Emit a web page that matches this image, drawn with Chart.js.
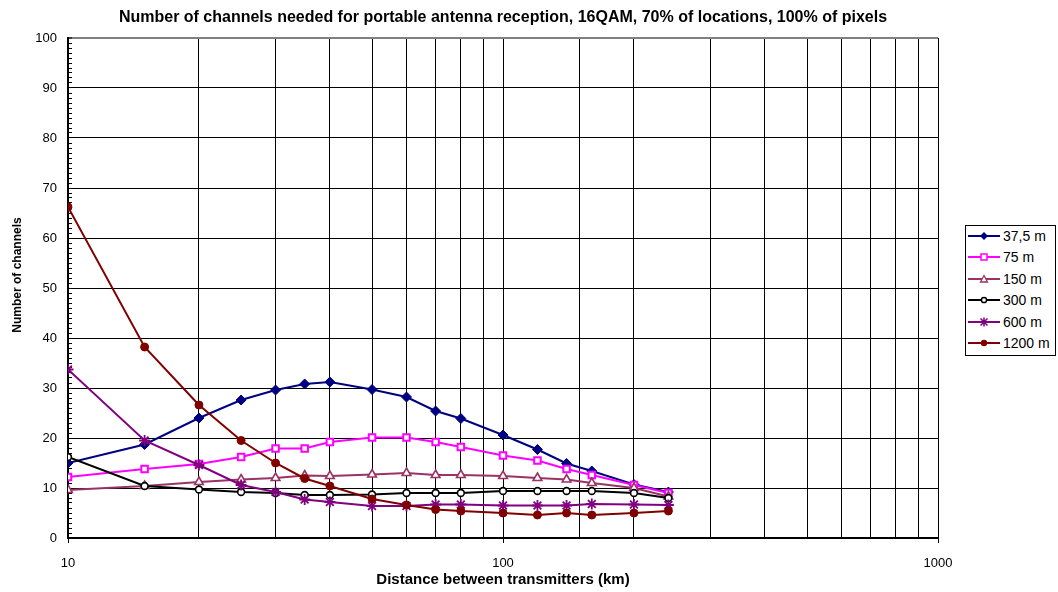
<!DOCTYPE html>
<html><head><meta charset="utf-8">
<script src="https://cdn.jsdelivr.net/npm/chart.js@4"></script>
<style>
html,body{margin:0;padding:0;background:#fff;}
#wrap{position:relative;width:1058px;height:592px;font-family:"Liberation Sans",Arial,sans-serif;color:#000;overflow:hidden;}
#c{position:absolute;left:0;top:0;}
#title{position:absolute;left:0;top:8px;width:1006px;text-align:center;font-weight:bold;font-size:16px;line-height:18px;white-space:nowrap;}
#ytitle{position:absolute;left:-83px;top:267px;width:200px;height:16px;line-height:16px;text-align:center;font-weight:bold;font-size:12px;transform:rotate(-90deg);white-space:nowrap;}
#legend{position:absolute;left:965px;top:225px;width:91px;height:131px;box-sizing:border-box;border:1px solid #000;background:#fff;}
.item{position:absolute;left:2px;height:16px;width:88px;}
.item svg{position:absolute;left:0;top:0;}
.item span{position:absolute;left:35px;top:0;font-size:14px;line-height:16px;white-space:nowrap;}
</style></head><body>
<div id="wrap">
<canvas id="c" width="1058" height="592"></canvas>
<div id="title">Number of channels needed for portable antenna reception, 16QAM, 70% of locations, 100% of pixels</div>
<div id="ytitle">Number of channels</div>
<div id="legend"></div>
</div>
<script>
// ---- data ----
const distances = [10, 15, 20, 25, 30, 35, 40, 50, 60, 70, 80, 100, 120, 140, 160, 200, 240];
const seriesNames = ["37,5 m", "75 m", "150 m", "300 m", "600 m", "1200 m"];
const s37_5 = [15.0, 18.7, 24.0, 27.6, 29.6, 30.8, 31.2, 29.7, 28.2, 25.4, 23.9, 20.6, 17.7, 14.9, 13.4, 10.7, 9.2];
const s75   = [12.2, 13.8, 14.8, 16.2, 17.9, 17.9, 19.2, 20.1, 20.1, 19.2, 18.2, 16.5, 15.5, 13.8, 12.6, 10.6, 9.0];
const s150  = [9.6, 10.4, 11.2, 11.7, 12.0, 12.5, 12.4, 12.7, 13.0, 12.6, 12.6, 12.4, 12.0, 11.7, 11.0, 10.0, 8.3];
const s300  = [16.2, 10.4, 9.7, 9.2, 9.0, 8.6, 8.6, 8.7, 9.0, 9.0, 9.0, 9.4, 9.4, 9.4, 9.4, 9.0, 8.0];
const s600  = [33.7, 19.5, 14.6, 10.6, 9.2, 7.7, 7.2, 6.4, 6.4, 6.7, 6.7, 6.5, 6.5, 6.5, 6.8, 6.7, 6.6];
const s1200 = [66.2, 38.2, 26.6, 19.5, 15.0, 11.9, 10.4, 7.8, 6.6, 5.7, 5.4, 5.0, 4.6, 5.0, 4.6, 5.0, 5.4];
const xTickLabels = [10, 100, 1000];
const yTickLabels = [0, 10, 20, 30, 40, 50, 60, 70, 80, 90, 100];

const seriesValues = [s37_5, s75, s150, s300, s600, s1200];
const colors = ["#000080", "#FF00FF", "#993366", "#000000", "#800080", "#800000"];
const styles = [
  {pointStyle: "rectRot", radius: 5, bg: "#000080", bw: 1},
  {pointStyle: "rect", radius: 4.6, bg: "#FFFFFF", bw: 2},
  {pointStyle: "triangle", radius: 5, bg: "#FFFFFF", bw: 1.6},
  {pointStyle: "circle", radius: 3.4, bg: "#FFFFFF", bw: 1.6},
  {pointStyle: "star", radius: 5.5, bg: "#800080", bw: 1.8},
  {pointStyle: "circle", radius: 4, bg: "#800000", bw: 1}
];
const FONT = '"Liberation Sans", Arial, sans-serif';

const datasets = seriesValues.map((vals, i) => ({
  label: seriesNames[i],
  data: distances.map((d, k) => ({x: d, y: vals[k]})),
  borderColor: colors[i],
  backgroundColor: styles[i].bg,
  borderWidth: 2,
  pointStyle: styles[i].pointStyle,
  pointRadius: styles[i].radius,
  pointBorderColor: colors[i],
  pointBackgroundColor: styles[i].bg,
  pointBorderWidth: styles[i].bw,
  tension: 0,
  fill: false,
  order: seriesValues.length - i
}));

const isPow10 = v => Math.abs(Math.log10(v) - Math.round(Math.log10(v))) < 1e-9;

new Chart(document.getElementById("c"), {
  type: "line",
  data: {datasets},
  options: {
    responsive: false,
    animation: false,
    events: [],
    layout: {padding: {left: 0, right: 120, top: 38, bottom: 0}},
    plugins: {legend: {display: false}, title: {display: false}, tooltip: {enabled: false}},
    scales: {
      x: {
        type: "logarithmic",
        min: 10, max: 1000,
        afterFit: s => { s.height = 54; },
        ticks: {
          autoSkip: false, maxRotation: 0, minRotation: 0, padding: 13, color: "#000",
          font: {size: 13, family: FONT},
          callback: v => (xTickLabels.includes(Math.round(v)) && isPow10(v)) ? String(Math.round(v)) : ""
        },
        grid: {
          color: "#000", lineWidth: 1, tickLength: 5, tickWidth: 1,
          tickColor: ctx => (ctx.tick && isPow10(ctx.tick.value)) ? "#000" : "rgba(0,0,0,0)"
        },
        border: {display: true, color: "#000", width: 2},
        title: {display: true, text: "Distance between transmitters (km)", color: "#000",
          font: {size: 15, weight: "bold", family: FONT}, padding: {top: 0, bottom: 3}}
      },
      y: {
        type: "linear",
        min: 0, max: 100,
        afterFit: s => { s.width = 68; },
        ticks: {
          stepSize: 1, maxTicksLimit: 101, autoSkip: false, padding: 15, color: "#000",
          font: {size: 13, family: FONT},
          callback: v => yTickLabels.includes(v) ? String(v) : ""
        },
        grid: {
          color: ctx => {
            const v = ctx.tick ? ctx.tick.value : 0;
            if (v === 100) return "#808080";
            return yTickLabels.includes(v) ? "#000" : "rgba(0,0,0,0)";
          },
          lineWidth: ctx => (ctx.tick && ctx.tick.value === 100) ? 2 : 1,
          tickLength: -4, tickWidth: 1, tickColor: "#000"
        },
        border: {display: true, color: "#000", width: 2}
      }
    }
  }
});

// ---- HTML legend ----
const legend = document.getElementById("legend");
function markerSvg(i) {
  const c = colors[i];
  switch (i) {
    case 0: return `<polygon points="16,4 20,8 16,12 12,8" fill="${c}"/>`;
    case 1: return `<rect x="13" y="5" width="6" height="6" fill="#fff" stroke="${c}" stroke-width="1.5"/>`;
    case 2: return `<polygon points="16,4.5 19.5,11 12.5,11" fill="#fff" stroke="${c}" stroke-width="1.3"/>`;
    case 3: return `<circle cx="16" cy="8" r="2.6" fill="#fff" stroke="${c}" stroke-width="1.5"/>`;
    case 4: return `<path d="M12.5,4.5 L19.5,11.5 M19.5,4.5 L12.5,11.5 M16,3.5 L16,12.5" stroke="${c}" stroke-width="1.5"/>`;
    default: return `<circle cx="16" cy="8" r="3.2" fill="${c}"/>`;
  }
}
seriesNames.forEach((name, i) => {
  const d = document.createElement("div");
  d.className = "item";
  d.style.top = (2 + i * 21.4) + "px";
  d.innerHTML = `<svg width="34" height="16"><line x1="0" y1="8" x2="32" y2="8" stroke="${colors[i]}" stroke-width="2"/>${markerSvg(i)}</svg><span>${name}</span>`;
  legend.appendChild(d);
});
</script>
</body></html>
